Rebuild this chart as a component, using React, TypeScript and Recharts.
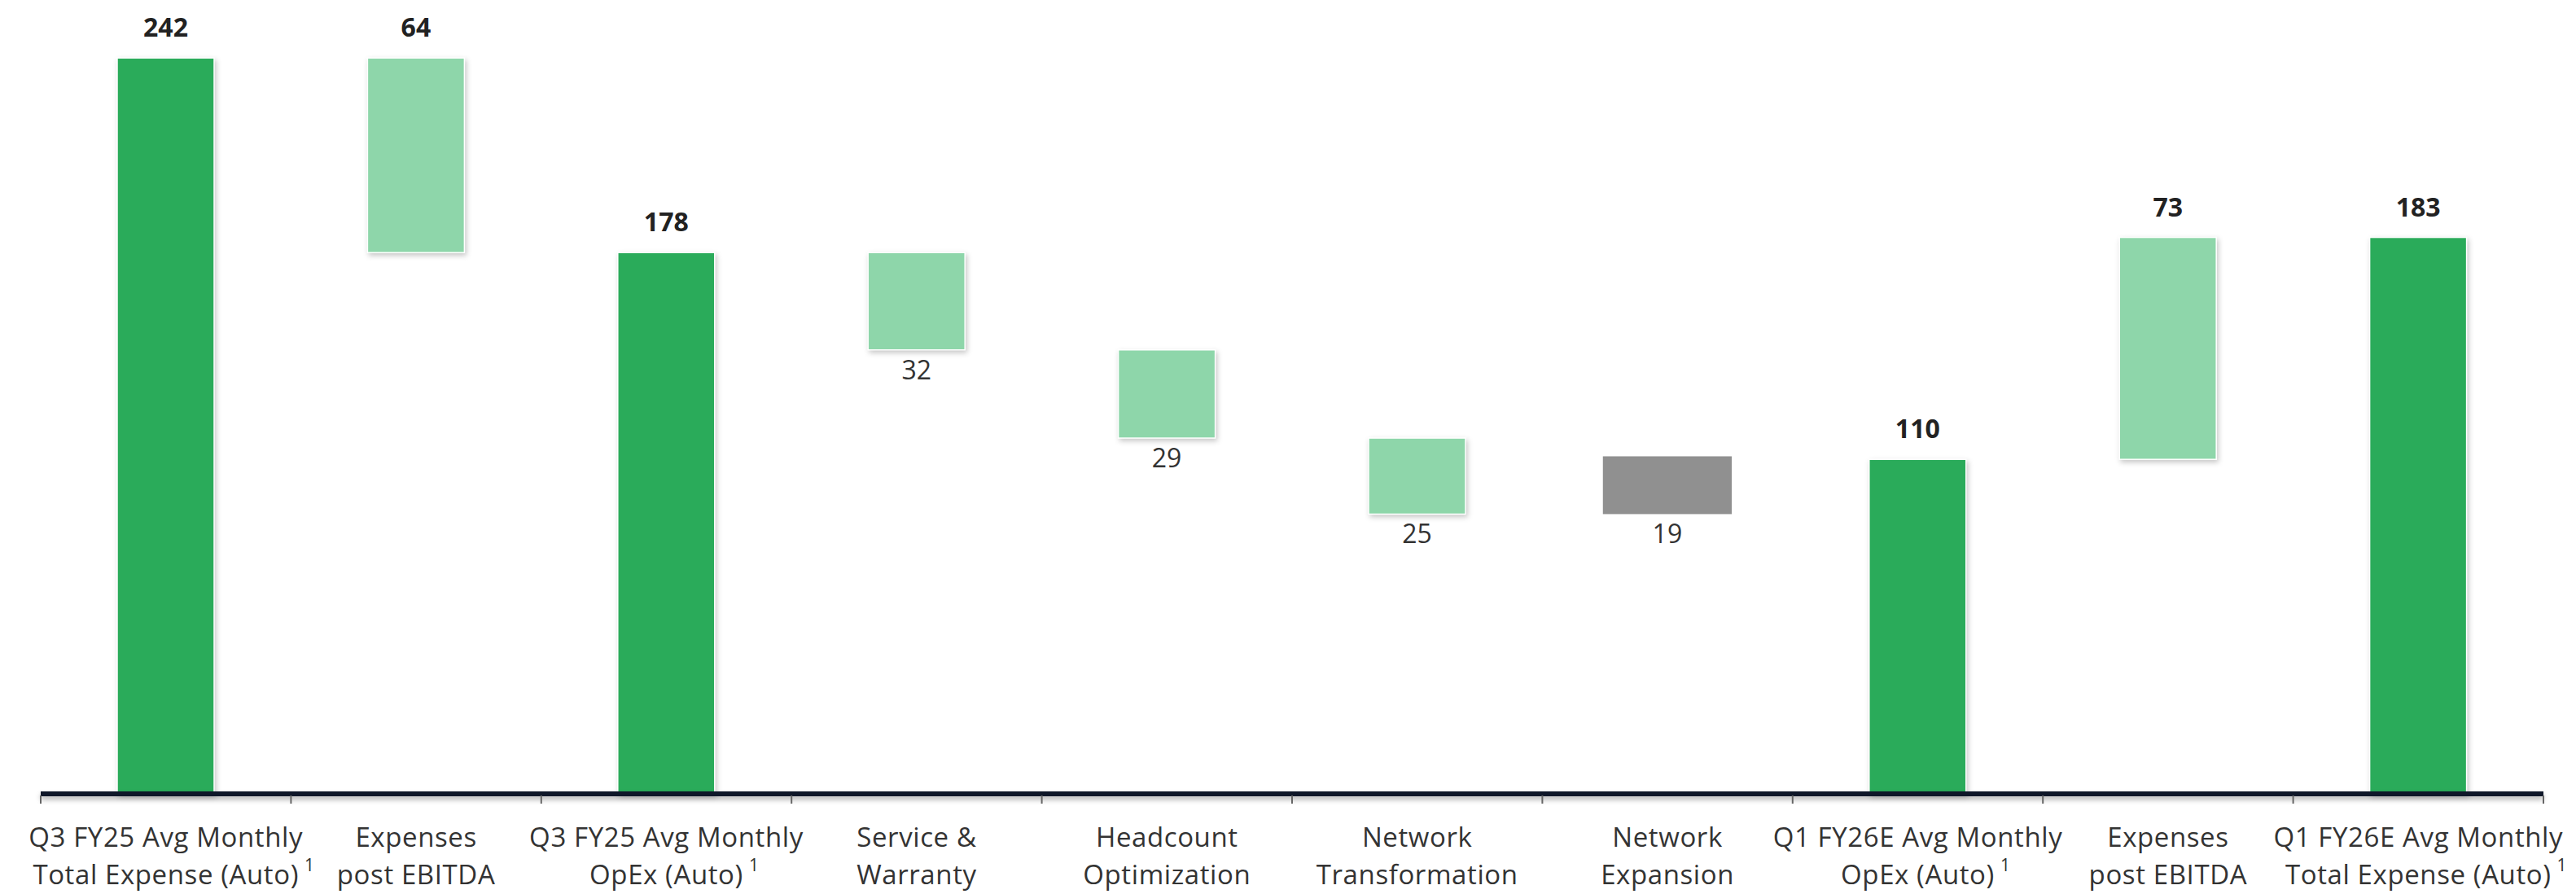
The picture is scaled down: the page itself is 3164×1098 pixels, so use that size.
import React from "react";
import { BarChart, Bar, XAxis, YAxis, LabelList } from "recharts";

const categoryLine1 = [
  "Q3 FY25 Avg Monthly",
  "Expenses",
  "Q3 FY25 Avg Monthly",
  "Service &",
  "Headcount",
  "Network",
  "Network",
  "Q1 FY26E Avg Monthly",
  "Expenses",
  "Q1 FY26E Avg Monthly",
];
const categoryLine2 = [
  "Total Expense (Auto)",
  "post EBITDA",
  "OpEx (Auto)",
  "Warranty",
  "Optimization",
  "Transformation",
  "Expansion",
  "OpEx (Auto)",
  "post EBITDA",
  "Total Expense (Auto)",
];
const footnote = ["1", "", "1", "", "", "", "", "1", "", "1"];
const barBase = [0, 178, 0, 146, 117, 92, 92, 0, 110, 0];
const barValue = [242, 64, 178, 32, 29, 25, 19, 110, 73, 183];
const barKind = [
  "total",
  "step",
  "total",
  "decrease",
  "decrease",
  "decrease",
  "other",
  "total",
  "step",
  "total",
];

const COLORS: Record<string, string> = {
  total: "#2aab5a",
  step: "#8ed6aa",
  decrease: "#8ed6aa",
  other: "#909090",
};

const FONT = "'Open Sans', Lato, sans-serif";
const LABEL_SIZE = 33;
const LABEL_SPACING = 0.6;
const W = 3164;
const H = 1098;
const MARGIN = { top: 4, right: 40, left: 50, bottom: 0 };
const AXIS_H = 123;

const data = categoryLine1.map((l1, i) => ({
  name: `${l1} ${categoryLine2[i]}`,
  range: [barBase[i], barBase[i] + barValue[i]],
}));

let measureCtx: CanvasRenderingContext2D | null = null;
function measure(text: string, font: string, spacing: number): number {
  if (!measureCtx) {
    const c = document.createElement("canvas");
    measureCtx = c.getContext("2d");
  }
  if (!measureCtx) return text.length * 17;
  measureCtx.font = font;
  return measureCtx.measureText(text).width + spacing * text.length;
}

const bandWidth = (W - MARGIN.left - MARGIN.right) / categoryLine1.length;

function CategoryTick(props: any) {
  const { x, y, payload } = props;
  const i = payload.index;
  const l2 = categoryLine2[i];
  const w2 = measure(l2, `${LABEL_SIZE}px 'Open Sans'`, LABEL_SPACING);
  const left = x - bandWidth / 2;
  const right = x + bandWidth / 2;
  return (
    <g>
      <line x1={left} y1={y + 2} x2={left} y2={y + 12} stroke="#666" strokeWidth={2} />
      {i === categoryLine1.length - 1 && (
        <line x1={right} y1={y + 2} x2={right} y2={y + 12} stroke="#666" strokeWidth={2} />
      )}
      <text
        x={x}
        y={y + 65}
        textAnchor="middle"
        fontFamily={FONT}
        fontSize={LABEL_SIZE}
        letterSpacing={LABEL_SPACING}
        fill="#333"
      >
        {categoryLine1[i]}
      </text>
      <text
        x={x}
        y={y + 111}
        textAnchor="middle"
        fontFamily={FONT}
        fontSize={LABEL_SIZE}
        letterSpacing={LABEL_SPACING}
        fill="#333"
      >
        {l2}
      </text>
      {footnote[i] && (
        <text x={x + w2 / 2 + 7} y={y + 95} fontFamily={FONT} fontSize={21} fill="#333">
          {footnote[i]}
        </text>
      )}
    </g>
  );
}

function WaterfallShape(props: any) {
  const { x, y, width, height, index } = props;
  const kind = barKind[index];
  const h = Math.abs(height);
  const top = height < 0 ? y + height : y;
  let w = width;
  let bx = x;
  if (kind === "other") {
    w = width * 1.33;
    bx = x - (w - width) / 2;
  }
  return (
    <rect
      x={bx}
      y={top}
      width={w}
      height={h}
      fill={COLORS[kind]}
      stroke={kind === "other" ? "none" : "#ffffff"}
      strokeWidth={kind === "other" ? 0 : 1.5}
      style={kind === "other" ? undefined : { filter: "drop-shadow(2px 3px 3px rgba(0,0,0,0.22))" }}
    />
  );
}

function ValueLabel(props: any) {
  const { x, y, width, height, index } = props;
  const kind = barKind[index];
  const cx = x + width / 2;
  const top = height < 0 ? y + height : y;
  const bottom = top + Math.abs(height);
  if (kind === "decrease" || kind === "other") {
    return (
      <text x={cx} y={bottom + 36} textAnchor="middle" fontFamily={FONT} fontSize={32} fill="#333">
        {barValue[index]}
      </text>
    );
  }
  return (
    <text
      x={cx}
      y={top - 26}
      textAnchor="middle"
      fontFamily={FONT}
      fontSize={32}
      fontWeight={700}
      fill="#222"
    >
      {barValue[index]}
    </text>
  );
}

export default function App() {
  return (
    <div style={{ position: "absolute", left: 0, top: 0, width: W, height: H, background: "#fff" }}>
      <BarChart width={W} height={H} data={data} margin={MARGIN}>
        <XAxis
          dataKey="name"
          height={AXIS_H}
          interval={0}
          tickSize={0}
          tickMargin={0}
          tickLine={false}
          axisLine={{
            stroke: "#0f1729",
            strokeWidth: 6,
            style: { filter: "drop-shadow(0px 4px 3px rgba(0,0,0,0.3))" },
          }}
          tick={<CategoryTick />}
        />
        <YAxis hide domain={[0, 260]} />
        <Bar dataKey="range" barSize={119} shape={<WaterfallShape />} isAnimationActive={false}>
          <LabelList dataKey="range" content={<ValueLabel />} />
        </Bar>
      </BarChart>
    </div>
  );
}
